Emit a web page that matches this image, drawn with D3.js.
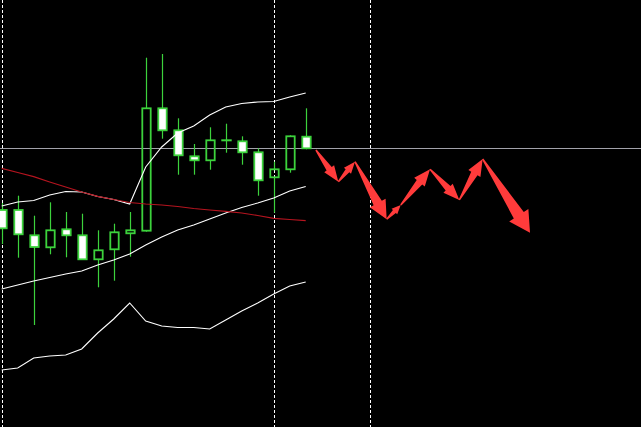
<!DOCTYPE html>
<html><head><meta charset="utf-8">
<script src="https://cdn.jsdelivr.net/npm/d3@7"></script>
<style>html,body{margin:0;padding:0;background:#000;overflow:hidden}</style>
</head><body>
<svg id="chart" width="641" height="427"></svg>
<script>
// ---- data (prices) ----
const opens  = [1.12170,1.12170,1.11917,1.11797,1.11977,1.11917,1.11677,1.11777,1.11937,1.11963,1.13187,1.12967,1.12707,1.12667,1.12867,1.12857,1.12747,1.12497,1.12577,1.12903];
const highs  = [1.12240,1.12313,1.12113,1.12247,1.12150,1.12133,1.11967,1.12033,1.12150,1.13693,1.13730,1.13087,1.12830,1.12997,1.13033,1.12907,1.12787,1.12653,1.12917,1.13187];
const lows   = [1.11830,1.11693,1.11020,1.11727,1.11697,1.11670,1.11397,1.11463,1.11703,1.11953,1.12883,1.12523,1.12523,1.12573,1.12743,1.12623,1.12313,1.12143,1.12543,1.12777];
const closes = [1.11987,1.11927,1.11800,1.11967,1.11917,1.11677,1.11767,1.11947,1.11967,1.13187,1.12967,1.12717,1.12667,1.12867,1.12867,1.12747,1.12467,1.12577,1.12907,1.12787];

const bbUpper  = [1.12210,1.12250,1.12265,1.12320,1.12355,1.12350,1.12305,1.12275,1.12230,1.12600,1.12800,1.12940,1.13010,1.13120,1.13200,1.13235,1.13250,1.13255,1.13300,1.13340];
const bbMiddle = [1.11380,1.11420,1.11460,1.11495,1.11530,1.11560,1.11620,1.11670,1.11730,1.11820,1.11900,1.11970,1.12020,1.12080,1.12140,1.12195,1.12240,1.12290,1.12360,1.12405];
const bbLower  = [1.10570,1.10590,1.10690,1.10710,1.10720,1.10780,1.10940,1.11080,1.11240,1.11060,1.11010,1.10995,1.10995,1.10980,1.11070,1.11160,1.11240,1.11330,1.11410,1.11450];
const maSlow   = [1.12587,1.12545,1.12503,1.12450,1.12400,1.12350,1.12307,1.12275,1.12245,1.12230,1.12220,1.12205,1.12185,1.12170,1.12157,1.12140,1.12115,1.12087,1.12075,1.12063];

const forecastTime  = [19.64,21.04,22.08,24.06,24.94,26.77,28.60,30.06,33.02];
const forecastPrice = [1.12770,1.12453,1.12653,1.12077,1.12220,1.12577,1.12270,1.12680,1.11943];

const separators = [0,17,23];
const bidPrice = 1.12787;

// ---- chart ----
const W = 641, H = 427;
const svg = d3.select("#chart");
svg.append("rect").attr("width", W).attr("height", H).attr("fill", "#000");

const x = d3.scaleLinear().domain([0, 40]).range([1.7, 641.7]);
const y = d3.scaleLinear().domain([1.1000, 1.1427]).range([H, 0]);

const GREEN = "#3cd23c";

// separators (dashed vertical)
svg.append("g").selectAll("line").data(separators).join("line")
  .attr("x1", d => Math.round(x(d)) + 0.5).attr("x2", d => Math.round(x(d)) + 0.5)
  .attr("y1", 0).attr("y2", H)
  .attr("stroke", "#ffffff").attr("stroke-width", 1)
  .attr("stroke-dasharray", "3,2");

// bid line
svg.append("line")
  .attr("x1", 0).attr("x2", W)
  .attr("y1", Math.round(y(bidPrice)) + 0.5).attr("y2", Math.round(y(bidPrice)) + 0.5)
  .attr("stroke", "#a2a2aa").attr("stroke-width", 1);

// candles
const candles = opens.map((o, i) => ({i, o, h: highs[i], l: lows[i], c: closes[i]}));
const cg = svg.append("g");
const bw = 8.4;
candles.forEach(d => {
  const cx = Math.round(x(d.i)) + 0.5;
  const top = y(Math.max(d.o, d.c)), bot = y(Math.min(d.o, d.c));
  cg.append("line").attr("x1", cx).attr("x2", cx).attr("y1", y(d.h)).attr("y2", top)
    .attr("stroke", GREEN).attr("stroke-width", 1.2);
  cg.append("line").attr("x1", cx).attr("x2", cx).attr("y1", bot).attr("y2", y(d.l))
    .attr("stroke", GREEN).attr("stroke-width", 1.2);
  if (Math.abs(bot - top) < 0.5) {
    cg.append("line").attr("x1", cx - bw/2 - 1).attr("x2", cx + bw/2 + 1)
      .attr("y1", top).attr("y2", top).attr("stroke", GREEN).attr("stroke-width", 2);
  } else {
    cg.append("rect").attr("x", cx - bw/2).attr("width", bw)
      .attr("y", top).attr("height", bot - top)
      .attr("fill", d.c < d.o ? "#ffffff" : "none")
      .attr("stroke", GREEN).attr("stroke-width", 1.8);
  }
});

// indicator lines
const line = d3.line().x((d, i) => x(i)).y(d => y(d));
[bbUpper, bbMiddle, bbLower].forEach(arr => {
  svg.append("path").attr("d", line(arr)).attr("fill", "none")
    .attr("stroke", "#ffffff").attr("stroke-width", 1.1);
});
svg.append("path").attr("d", line(maSlow)).attr("fill", "none")
  .attr("stroke", "#b5141f").attr("stroke-width", 1.2);

// forecast arrows
const pts = forecastTime.map((t, i) => [x(t), y(forecastPrice[i])]);
const ag = svg.append("g");
for (let k = 0; k < pts.length - 1; k++) {
  const [x0, y0] = pts[k], [x1, y1] = pts[k + 1];
  const dx = x1 - x0, dy = y1 - y0, L = Math.hypot(dx, dy);
  const ux = dx / L, uy = dy / L, nx = -uy, ny = ux;
  const hl = Math.min(12 + 0.1 * L, 0.45 * L);
  const hw = 3.5 + 0.22 * L;
  const sw = 0.52 * hw, tw = 1.5;
  const bx = x0 + ux * (L - hl), by = y0 + uy * (L - hl);
  const poly = [
    [x0 + nx * tw / 2, y0 + ny * tw / 2],
    [bx + nx * sw / 2, by + ny * sw / 2],
    [bx + nx * hw / 2, by + ny * hw / 2],
    [x1, y1],
    [bx - nx * hw / 2, by - ny * hw / 2],
    [bx - nx * sw / 2, by - ny * sw / 2],
    [x0 - nx * tw / 2, y0 - ny * tw / 2]
  ];
  ag.append("polygon").attr("points", poly.map(p => p.join(",")).join(" "))
    .attr("fill", "#ff3b3b");
}
</script>
</body></html>
